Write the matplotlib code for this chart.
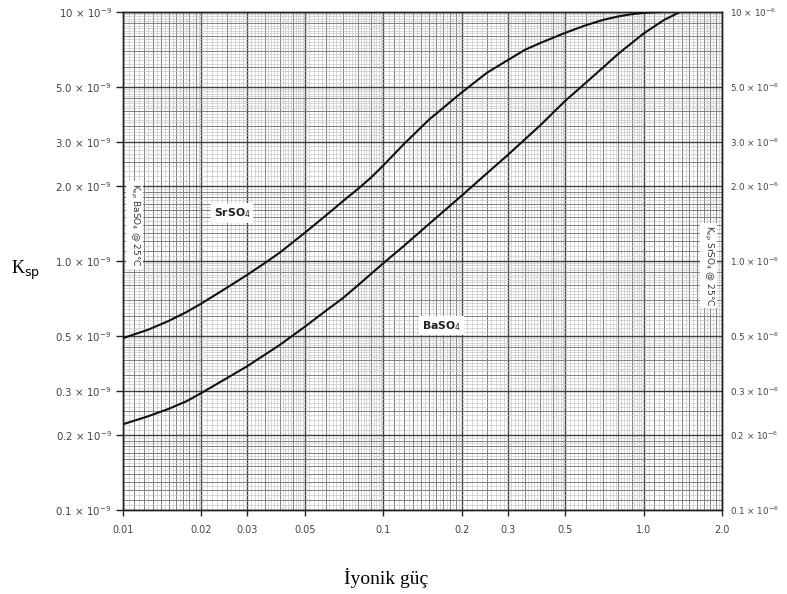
import numpy as np
import matplotlib
matplotlib.use("Agg")
import matplotlib.pyplot as plt

# Ionic strength and solubility products (BaSO4 in 1e-9, SrSO4 in 1e-6)
ba_ionic = [0.01, 0.0125, 0.015, 0.0176, 0.02, 0.025, 0.03, 0.035, 0.04, 0.05,
            0.06, 0.07, 0.08, 0.09, 0.1, 0.12, 0.15, 0.2, 0.25, 0.3, 0.4, 0.5,
            0.6, 0.7, 0.8, 1.0, 1.2, 1.38]
ba_ksp_e9 = [0.221, 0.238, 0.255, 0.274, 0.295, 0.338, 0.378, 0.42, 0.46, 0.545,
             0.63, 0.71, 0.80, 0.89, 0.98, 1.15, 1.41, 1.83, 2.25, 2.66, 3.5, 4.4,
             5.2, 6.0, 6.8, 8.2, 9.3, 10.0]

sr_ionic = [0.01, 0.0125, 0.015, 0.0176, 0.02, 0.025, 0.03, 0.035, 0.04, 0.05,
            0.06, 0.07, 0.08, 0.09, 0.1, 0.12, 0.15, 0.2, 0.25, 0.3, 0.35, 0.4,
            0.5, 0.6, 0.7, 0.8, 0.9, 1.0, 1.15]
sr_ksp_e6 = [0.49, 0.53, 0.575, 0.625, 0.675, 0.78, 0.88, 0.98, 1.08, 1.30,
             1.52, 1.74, 1.95, 2.17, 2.42, 2.95, 3.7, 4.75, 5.7, 6.4, 7.05, 7.5,
             8.25, 8.85, 9.3, 9.6, 9.8, 9.92, 10.0]

x_ticks = [0.01, 0.02, 0.03, 0.05, 0.1, 0.2, 0.3, 0.5, 1.0, 2.0]
x_labels = ["0.01", "0.02", "0.03", "0.05", "0.1", "0.2", "0.3", "0.5", "1.0", "2.0"]
y_ticks = [0.1, 0.2, 0.3, 0.5, 1.0, 2.0, 3.0, 5.0, 10.0]
y_mant = ["0.1", "0.2", "0.3", "0.5", "1.0", "2.0", "3.0", "5.0", "10"]

fig = plt.figure(figsize=(7.87, 5.94), dpi=100)
ax = fig.add_axes([0.1563, 0.1414, 0.7611, 0.8384])
ax.set_xscale("log")
ax.set_yscale("log")
ax.set_xlim(0.01, 2.0)
ax.set_ylim(0.1, 10.0)


def paper_lines(lo, hi):
    """Log graph-paper rulings: (fine, medium, heavy) positions within [lo, hi]."""
    fine, med, heavy = [], [], []
    for dec in (0.01, 0.1, 1.0, 10.0):
        for m in np.arange(1.0, 2.0, 0.05):
            v = round(m, 2)
            (heavy if abs(v - 1) < 1e-9 else med if abs(v * 10 - round(v * 10)) < 1e-9 else fine).append(v * dec)
        for m in np.arange(2.0, 5.0, 0.1):
            v = round(m, 1)
            (heavy if v in (2.0, 3.0) else med if abs(v * 2 - round(v * 2)) < 1e-9 else fine).append(v * dec)
        for m in np.arange(5.0, 10.0, 0.2):
            v = round(m, 1)
            (heavy if v == 5.0 else med if abs(v - round(v)) < 1e-9 else fine).append(v * dec)
    keep = lambda arr: [a for a in arr if lo * 0.999 <= a <= hi * 1.001]
    return keep(fine), keep(med), keep(heavy)


xf, xm, xh = paper_lines(0.01, 2.0)
yf, ym, yh = paper_lines(0.1, 10.0)
xt = ax.get_xaxis_transform()
yt = ax.get_yaxis_transform()
ax.vlines(xf, 0, 1, transform=xt, colors="#c2c2c2", lw=0.45, zorder=1)
ax.vlines(xm, 0, 1, transform=xt, colors="#808080", lw=0.7, zorder=1)
ax.vlines(xh, 0, 1, transform=xt, colors="#404040", lw=1.0, zorder=1)
ax.hlines(yf, 0, 1, transform=yt, colors="#c2c2c2", lw=0.45, zorder=1)
ax.hlines(ym, 0, 1, transform=yt, colors="#808080", lw=0.7, zorder=1)
ax.hlines(yh, 0, 1, transform=yt, colors="#404040", lw=1.0, zorder=1)

# Curves
ax.plot(ba_ionic, ba_ksp_e9, color="#111111", lw=1.5, zorder=4, clip_on=True)

ax2 = ax.twinx()
ax2.set_yscale("log")
ax2.set_ylim(0.1, 10.0)
ax2.set_xlim(0.01, 2.0)
ax2.plot(sr_ionic, sr_ksp_e6, color="#111111", lw=1.5, zorder=4, clip_on=True)

for a in (ax, ax2):
    for s in a.spines.values():
        s.set_color("#222222")
        s.set_linewidth(1.0)
    a.minorticks_off()

ax.set_xticks(x_ticks)
ax.set_xticklabels(x_labels, family="DejaVu Sans", size=7, color="#444444")
ax.set_yticks(y_ticks)
ax.set_yticklabels([m + r" × 10$^{-9}$" for m in y_mant],
                   family="DejaVu Sans", size=7.4, color="#444444")
ax2.set_yticks(y_ticks)
ax2.set_yticklabels([m + r" × 10$^{-6}$" for m in y_mant],
                    family="DejaVu Sans", size=6.3, color="#444444")
ax.tick_params(axis="both", which="major", direction="out", length=5, width=1.0,
               color="#222222", pad=3)
ax2.tick_params(axis="y", which="major", direction="out", length=0, pad=6)
ax.tick_params(axis="x", which="major", length=4, pad=7)

# Curve labels
box = dict(facecolor="white", edgecolor="none", pad=2.0)
ax.text(0.0262, 1.56, r"SrSO$_4$", fontsize=7.8, fontweight="bold", color="#222222",
        ha="center", va="center", bbox=box, zorder=5)
ax.text(0.167, 0.55, r"BaSO$_4$", fontsize=7.8, fontweight="bold", color="#222222",
        ha="center", va="center", bbox=box, zorder=5)
box_v = dict(facecolor="white", edgecolor="none", pad=1.5)
ax.text(0.0111, 1.40, r"K$_{sp}$ BaSO$_4$ @ 25°C", fontsize=6.5, color="#333333",
        rotation=-90, ha="center", va="center", bbox=box_v, zorder=5)
ax.text(1.78, 0.96, r"K$_{sp}$ SrSO$_4$ @ 25°C", fontsize=6.5, color="#333333",
        rotation=-90, ha="center", va="center", bbox=box_v, zorder=5)

# Axis titles
fig.text(0.032, 0.545, r"K$_{\mathrm{sp}}$", fontsize=13, family="Liberation Serif",
         ha="center", va="center")
fig.text(0.49, 0.027, "İyonik güç", fontsize=14, family="Liberation Serif",
         ha="center", va="center")

fig.savefig("out.png", dpi=100, facecolor="white")
